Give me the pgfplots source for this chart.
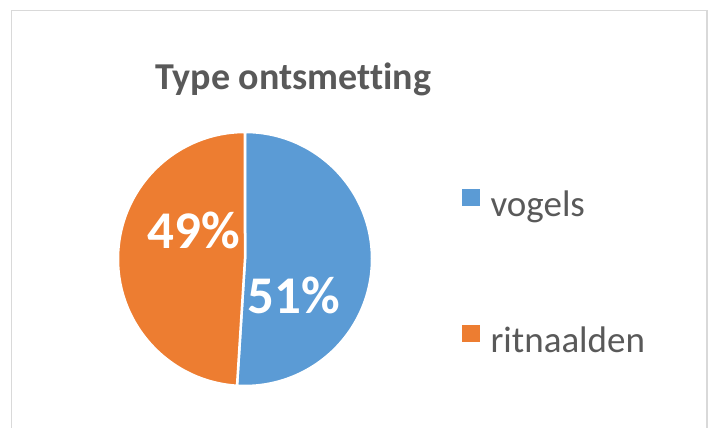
\documentclass[border=0pt]{standalone}
\usepackage{fontspec}
\setmainfont{Carlito}[Ligatures=NoCommon]
\usepackage{pgfplots}
\usepackage{pgfplotstable}
\pgfplotsset{compat=1.18}
\definecolor{pieblue}{HTML}{5B9BD5}
\definecolor{pieorange}{HTML}{ED7D31}
\definecolor{txtgray}{HTML}{595959}
\definecolor{framegray}{HTML}{D9D9D9}
\pgfplotstableread{
label value
vogels 51
ritnaalden 49
}\piedata
\pgfplotstablegetelem{0}{value}\of\piedata \let\vA\pgfplotsretval
\pgfplotstablegetelem{1}{value}\of\piedata \let\vB\pgfplotsretval
\pgfmathsetmacro\total{\vA+\vB}
\pgfmathsetmacro\fA{\vA/\total}
\pgfmathsetmacro\fB{\vB/\total}
\pgfmathsetmacro\angA{90-360*\fA}
\pgfmathsetmacro\angB{\angA-360*\fB}
\begin{document}
\begin{tikzpicture}[x=1pt,y=1pt]
\useasboundingbox (0,0) rectangle (713,428);
\fill[white] (0,0) rectangle (713,428);
\draw[framegray, line width=1.5pt] (11.5,-5) -- (11.5,417.5) -- (707,417.5) -- (707,-5);
\node[font=\fontsize{38}{44}\selectfont\bfseries, text=txtgray, anchor=base, inner sep=0pt] at (293,338) {Type ontsmetting};
\begin{axis}[
  at={(245pt,169pt)}, anchor=center,
  x=126pt, y=126pt,
  xmin=-1, xmax=1, ymin=-1, ymax=1,
  hide axis, clip=false,
  legend cell align=left,
  legend style={draw=none, fill=none, inner sep=0pt,
    at={(axis description cs:1.361,0.778)}, anchor=north west,
    font=\fontsize{37}{43}\selectfont, text=txtgray,
    row sep=101pt,
    nodes={inner sep=0pt, text height=26pt, text depth=8pt},
    /tikz/every even column/.append style={column sep=0pt},
    /tikz/every odd column/.append style={column sep=11pt}},
]
\addlegendimage{legend image code/.code={\fill[pieblue] (0pt,2pt) rectangle (17pt,18pt);}}
\addlegendentry{vogels}
\addlegendimage{legend image code/.code={\fill[pieorange] (0pt,2pt) rectangle (17pt,18pt);}}
\addlegendentry{ritnaalden}
\filldraw[fill=pieblue, draw=white, line width=2.5pt, line join=round]
  (axis cs:0,0) -- ++(90:127pt) arc[start angle=90, end angle=\angA, radius=127pt] -- cycle;
\filldraw[fill=pieorange, draw=white, line width=2.5pt, line join=round]
  (axis cs:0,0) -- ++(\angA:127pt) arc[start angle=\angA, end angle=\angB, radius=127pt] -- cycle;
\node[text=white, font=\fontsize{53}{60}\selectfont\bfseries, inner sep=0pt] at (axis cs:-0.409,0.230) {49\%};
\node[text=white, font=\fontsize{53}{60}\selectfont\bfseries, inner sep=0pt] at (axis cs:0.389,-0.286) {51\%};
\end{axis}
\end{tikzpicture}
\end{document}
